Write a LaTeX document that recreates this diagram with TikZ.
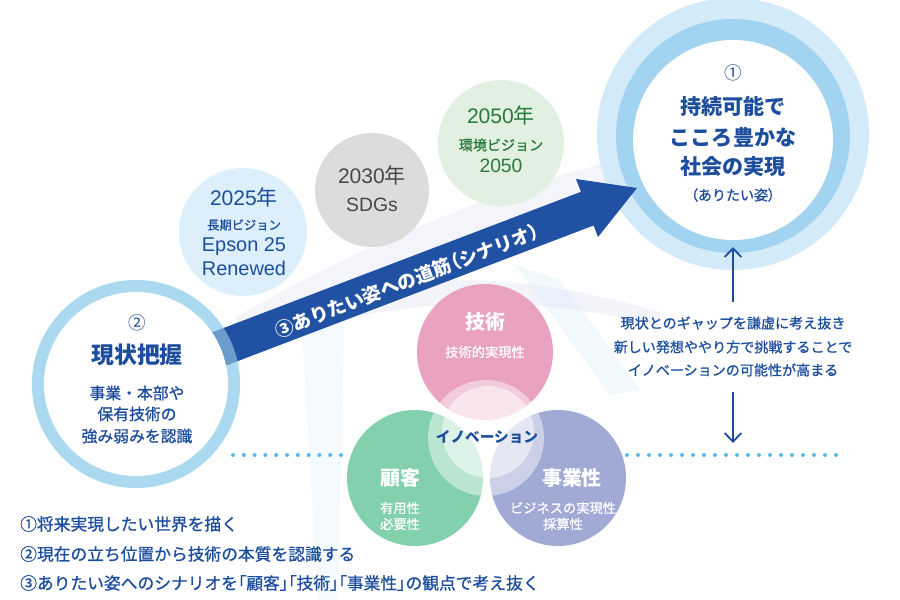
\documentclass[tikz,border=0pt]{standalone}
\usepackage{fontspec}
\setmainfont{Noto Sans CJK JP}
\newfontfamily\latin{Liberation Sans}
\newfontfamily\jpmid[FakeBold=0.9]{Noto Sans CJK JP}
\usepackage{tikz}
\usetikzlibrary{positioning,calc,arrows.meta}

\definecolor{deepblue}{HTML}{1D4E9E}
\definecolor{arrowblue}{HTML}{2151A3}
\definecolor{ringpale}{HTML}{D3EAF9}
\definecolor{ringmid}{HTML}{A2D4F2}
\definecolor{ringtwo}{HTML}{ABDAF0}
\definecolor{visionA}{HTML}{DDEFFB}
\definecolor{sdggray}{HTML}{DCDCDC}
\definecolor{visionB}{HTML}{E1F0E1}
\definecolor{greentext}{HTML}{2B7A3B}
\definecolor{graytext}{HTML}{474747}
\definecolor{techpink}{HTML}{E9A3C0}
\definecolor{custgreen}{HTML}{83D0AC}
\definecolor{bizpurple}{HTML}{A1A9D5}
\definecolor{dotblue}{HTML}{5DB8E6}
\definecolor{haze}{HTML}{E4E6F4}

\newcommand\fsz[1]{\fontsize{#1}{#1}\selectfont}
\newcommand\halfw[1]{{\addfontfeatures{RawFeature=+palt}#1}}

\tikzset{
  every node/.style={inner sep=0pt},
  goaltxt/.style={text=deepblue,font=\bfseries\fsz{18}},
  nowtxt/.style={text=deepblue,font=\jpmid\fsz{13.5}},
  venntxt/.style={text=white,font=\bfseries\fsz{17}},
  vennsub/.style={text=white,font=\jpmid\fsz{11.3}},
  gaptxt/.style={text=deepblue,font=\jpmid\fsz{12}},
  notetxt/.style={text=deepblue,font=\jpmid\fsz{14.3},anchor=west},
  flowarrow/.style={deepblue,line width=0.55mm,-{Straight Barb[length=2.6mm,width=5mm]}}
}

\begin{document}
\begin{tikzpicture}[x=0.3mm,y=-0.3mm]
\useasboundingbox (0,0) rectangle (900,600);

% faint background sweeps
\fill[haze,opacity=.4] (235,318) .. controls (330,262) and (470,196) .. (625,158) -- (640,188) -- (240,350) -- cycle;
\fill[haze,opacity=.45] (300,302) .. controls (420,262) and (560,282) .. (660,312) -- (660,326) .. controls (560,300) and (420,292) .. (310,330) -- cycle;
\fill[ringpale,opacity=.22] (300,300) -- (345,292) -- (338,600) -- (318,600) -- cycle;
\fill[ringpale,opacity=.3] (515,265) -- (560,280) -- (640,390) -- (610,395) -- cycle;

% milestones
\fill[visionA] (243,232) circle (64);
\fill[sdggray] (372,190) circle (57);
\fill[visionB] (501,143) circle (63);
\node[text=deepblue,font=\fsz{18}] (y2025) at (244,197) {{\latin 2025}年};
\node[text=deepblue,font=\jpmid\fsz{10.5}] (lt25) at (244,225) {長期ビジョン};
\node[text=deepblue,font=\latin\fsz{17}] (ep25) at (244,247) {Epson 25};
\node[text=deepblue,font=\latin\fsz{17}] (rn25) at (244,268) {Renewed};
\node[text=graytext,font=\fsz{18}] (y2030) at (372,175) {{\latin 2030}年};
\node[text=graytext,font=\latin\fsz{16.5}] (sdgs) at (372,205) {SDGs};
\node[text=greentext,font=\fsz{18}] (y2050) at (501,115) {{\latin 2050}年};
\node[text=greentext,font=\jpmid\fsz{12}] (env50) at (501,145) {環境ビジョン};
\node[text=greentext,font=\latin\fsz{16.5}] (ev50) at (501,166) {2050};

% (1) goal
\fill[ringpale] (733,134) circle (136);
\fill[ringmid] (733,136) circle (117);
\fill[white] (733,140) circle (100);
\node[text=deepblue,font=\fsz{15}] (goalno) at (733,73) {①};
\node[goaltxt] (goalA) at (733,106) {持続可能で};
\node[goaltxt] (goalB) at (733,137) {こころ豊かな};
\node[goaltxt] (goalC) at (733,167) {社会の実現};
\node[text=deepblue,font=\jpmid\fsz{12}] (goalD) at (733,195) {\halfw{（}ありたい姿\halfw{）}};

% (2) now + (3) road
\draw[ringtwo,line width=3.6mm] (136,384) circle (98);
\fill[arrowblue] (190,340.8) -- (580.9,191.8) -- (576,179) -- (637,188)
  -- (598,237) -- (593.6,225.5) -- (202.8,374.4) -- cycle;
\fill[white] (136,384) circle (92);
\draw[ringtwo,line width=3.6mm,opacity=.55] (136,384) circle (98);
\node[text=white,font=\bfseries\fsz{16},rotate=21] (road) at (407,281) {③ありたい姿への道筋\halfw{（}シナリオ\halfw{）}};

\node[text=deepblue,font=\fsz{15}] (nowno) at (137,323) {②};
\node[text=deepblue,font=\bfseries\fsz{19.5}] (nowhead) at (137,355) {現状把握};
\node[nowtxt] (nowA) at (137,393) {事業・本部や};
\node[nowtxt] (nowB) at (137,414) {保有技術の};
\node[nowtxt] (nowC) at (137,436) {強み弱みを認識};

% innovation
\fill[techpink] (485,352) circle (68);
\fill[custgreen] (415,478) circle (68);
\fill[bizpurple] (558,478) circle (68);
\fill[white,opacity=.45] (486,438) circle (58);
\fill[white,opacity=.5] (488,432) circle (46);
\node[venntxt] (tech) at (485,322) {技術};
\node[vennsub] (techsub) at (485,352) {技術的実現性};
\node[venntxt] (cust) at (400,478) {顧客};
\node[vennsub] (custA) at (400,508) {有用性};
\node[vennsub] (custB) at (400,524) {必要性};
\node[venntxt] (biz) at (572,478) {事業性};
\node[vennsub] (bizA) at (563,508) {ビジネスの実現性};
\node[vennsub] (bizB) at (563,524) {採算性};
\node[text=deepblue,font=\bfseries\fsz{12.5}] (innov) at (487,437) {イノベーション};

% gap
\node[gaptxt] (gapA) at (733,323) {現状とのギャップを謙虚に考え抜き};
\node[gaptxt] (gapB) at (733,347) {新しい発想ややり方で挑戦することで};
\node[gaptxt] (gapC) at (733,370) {イノベーションの可能性が高まる};
\coordinate (upFoot) at (733,302);
\coordinate (upTip) at (733,247);
\coordinate (downFoot) at (733,392);
\coordinate (downTip) at (733,443);
\draw[flowarrow] (upFoot) -- (upTip);
\draw[flowarrow] (downFoot) -- (downTip);

% dotted rules
\foreach \k in {0,...,10}
  \fill[dotblue] (233+10.8*\k,455) circle (2);
\foreach \k in {0,...,19}
  \fill[dotblue] (627+11*\k,455) circle (2);

% notes
\node[notetxt] (noteA) at (20,524) {①将来実現したい世界を描く};
\node[notetxt] (noteB) at (20,554) {②現在の立ち位置から技術の本質を認識する};
\node[notetxt] (noteC) at (20,583) {③ありたい姿へのシナリオを\halfw{「}顧客\halfw{」「}技術\halfw{」「}事業性\halfw{」}の観点で考え抜く};
\end{tikzpicture}
\end{document}
